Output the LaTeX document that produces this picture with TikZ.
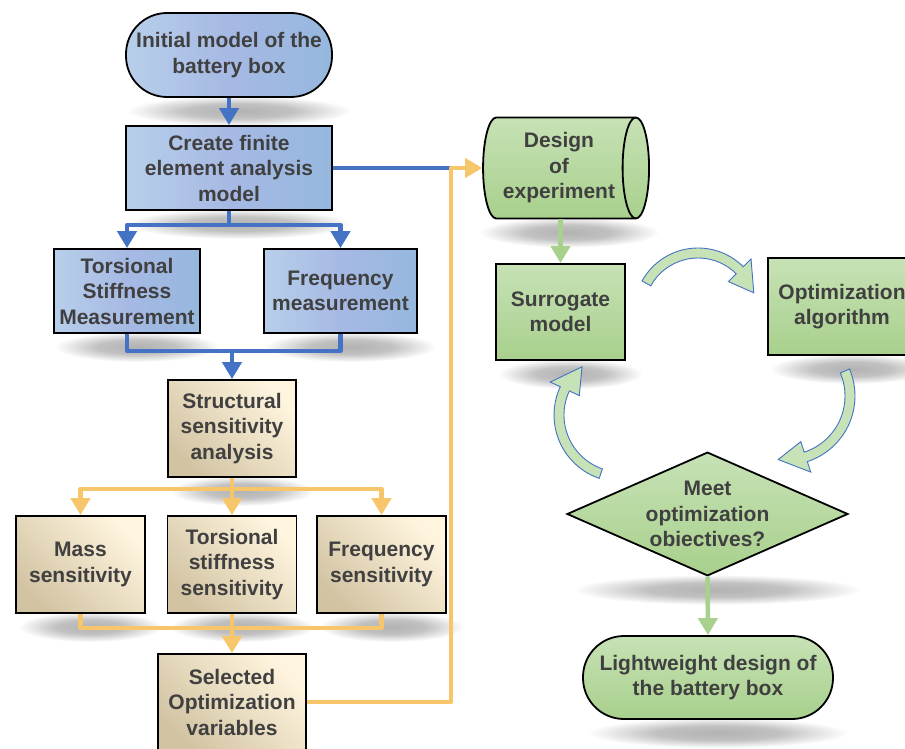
\documentclass[tikz,border=0pt]{standalone}
\usepackage{fontspec}
\setmainfont{Liberation Sans}
\usepackage{tikz}
\usetikzlibrary{arrows.meta, positioning, calc, shapes.geometric, backgrounds, fadings}
\usepackage{xcolor}
\definecolor{txt}{RGB}{64,64,64}
\definecolor{blueL}{RGB}{184,207,234}
\definecolor{blueM}{RGB}{166,185,228}
\definecolor{blueR}{RGB}{150,184,222}
\definecolor{tanL}{RGB}{255,244,222}
\definecolor{tanD}{RGB}{210,196,163}
\definecolor{greenL}{RGB}{199,226,182}
\definecolor{greenD}{RGB}{168,208,140}
\definecolor{lineB}{RGB}{68,114,196}
\definecolor{lineY}{RGB}{247,198,106}
\definecolor{lineG}{RGB}{169,209,142}
\pgfdeclareradialshading{shadowmask}{\pgfpoint{0bp}{0bp}}{color(0bp)=(pgftransparent!0); color(12bp)=(pgftransparent!20); color(25bp)=(pgftransparent!100); color(50bp)=(pgftransparent!100)}
\pgfdeclarefading{shadowfade}{\pgfuseshading{shadowmask}}

\tikzset{
  box/.style={draw=black, line width=1.8pt, text=txt, inner sep=0pt, align=center,
    font=\fontsize{21}{25.5}\selectfont\bfseries},
  bluebox/.style={box, left color=blueL, right color=blueR, middle color=blueM},
  tanbox/.style={box, top color=tanL, bottom color=tanD, shading angle=-45},
  greenbox/.style={box, top color=greenL, bottom color=greenD},
  bline/.style={draw=lineB, line width=4.5pt, line join=round},
  barrow/.style={bline, -{Triangle[width=19pt,length=17pt]}},
  yline/.style={draw=lineY, line width=4.5pt, line join=round},
  yarrow/.style={yline, -{Triangle[width=19pt,length=17pt]}},
  garrow/.style={draw=lineG, line width=4.5pt, -{Triangle[width=19pt,length=17pt]}},
  cycarrow/.style={fill=greenL, draw=lineB, line width=0.9pt, line join=miter},
  softshadow/.style={fill=black, fill opacity=0.3, path fading=shadowfade}
}

\begin{document}
\begin{tikzpicture}[x=1pt, y=-1pt]
  \useasboundingbox (0,0) rectangle (905,749);

  % left column: model and measurements
  \node[bluebox, rounded corners=41pt, minimum width=206pt, minimum height=84pt] (init) at (229,55) {Initial model of the\\battery box};
  \node[bluebox, minimum width=206pt, minimum height=84pt] (fea) at (229,168) {Create finite\\element analysis\\model};
  \node[bluebox, minimum width=146pt, minimum height=84pt] (tsm) at (127,291) {Torsional\\Stiffness\\Measurement};
  \node[bluebox, minimum width=153pt, minimum height=84pt] (fm) at (340.5,291) {Frequency\\measurement};

  % sensitivity
  \node[tanbox, minimum width=128pt, minimum height=97pt] (ssa) at (232,428.5) {Structural\\sensitivity\\analysis};
  \node[tanbox, minimum width=129pt, minimum height=97pt] (ms) at (80.5,564.5) {Mass\\sensitivity};
  \node[tanbox, minimum width=129pt, minimum height=97pt] (tss) at (232,564.5) {Torsional\\stiffness\\sensitivity};
  \node[tanbox, minimum width=129pt, minimum height=97pt] (fs) at (381.5,564.5) {Frequency\\sensitivity};
  \node[tanbox, minimum width=148pt, minimum height=96pt] (sov) at (232,702) {Selected\\Optimization\\variables};

  % right column: optimization loop
  \node[greenbox, cylinder, aspect=0.375, minimum width=101pt, minimum height=166pt] (des) at (559,168) {Design\\of\\experiment};
  \node[greenbox, minimum width=129pt, minimum height=96pt] (surr) at (560.5,312) {Surrogate\\model};
  \node[greenbox, minimum width=148pt, minimum height=97pt] (opt) at (842,306.5) {Optimization\\algorithm};
  \node[greenbox, diamond, aspect=2.13, minimum width=281pt] (dia) at (707.5,514) {Meet\\optimization\\obiectives?};
  \node[greenbox, rounded corners=41pt, minimum width=250pt, minimum height=83pt] (light) at (708,677.5) {Lightweight design of\\the battery box};

  % blue connectors
  \draw[barrow] (init.south) -- (fea.north);
  \draw[barrow] (fea.south) -- ++(0,14) -| (tsm.north);
  \draw[barrow] (fea.south) -- ++(0,14) -| (fm.north);
  \coordinate (bj) at ($(tsm.south)+(0,17)$);
  \draw[bline] (tsm.south) -- (bj) -| (fm.south);
  \draw[barrow] (bj -| ssa.north) -- (ssa.north);

  % yellow connectors
  \draw[yarrow] (ssa.south) -- ++(0,11) -| (ms.north);
  \draw[yarrow] (ssa.south) -- ++(0,11) -| (fs.north);
  \draw[yarrow] (ssa.south) -- (tss.north);
  \coordinate (yj) at ($(ms.south)+(0,14)$);
  \draw[yline] (ms.south) -- (yj) -| (fs.south);
  \draw[yline] (tss.south) -- (tss.south |- yj);
  \draw[yarrow] (yj -| sov.north) -- (sov.north);

  \coordinate (yc) at ($(des.west)+(-31,0)$);
  \draw[bline] (fea.east) -- (yc);
  \draw[yarrow] (sov.east) -| (yc) -- (des.west);

  % green connectors
  \draw[garrow] (des.south -| surr.north) -- (surr.north);
  \draw[garrow] (dia.south) -- (light.north);

  % curved block arrows of the loop
  \foreach \cx/\cy/\r/\a/\b/\t in {698/312/59/209/315/341, 786/396/64/337/432/457, 621/415/62/109/205/231}
    \filldraw[cycarrow] ($(\cx,\cy)+(\a:{\r+5})$) arc[start angle=\a, end angle=\b, radius=\r+5]
      -- ($(\cx,\cy)+(\b:{\r+16})$) -- ($(\cx,\cy)+(\t:{\r})$) -- ($(\cx,\cy)+(\b:{\r-16})$)
      -- ($(\cx,\cy)+(\b:{\r-5})$) arc[start angle=\b, end angle=\a, radius=\r-5] -- cycle;

  % soft shadows
  \begin{scope}[on background layer]
    \foreach \n/\rx in {init/112, fea/112, tsm/82, fm/86, ssa/72, ms/72, tss/72, fs/72, sov/82, des/90, surr/72, opt/82, dia/144, light/130}
      \fill[softshadow] ($(\n.south)+(10,13)$) ellipse[x radius=\rx, y radius=15];
  \end{scope}
\end{tikzpicture}
\end{document}
